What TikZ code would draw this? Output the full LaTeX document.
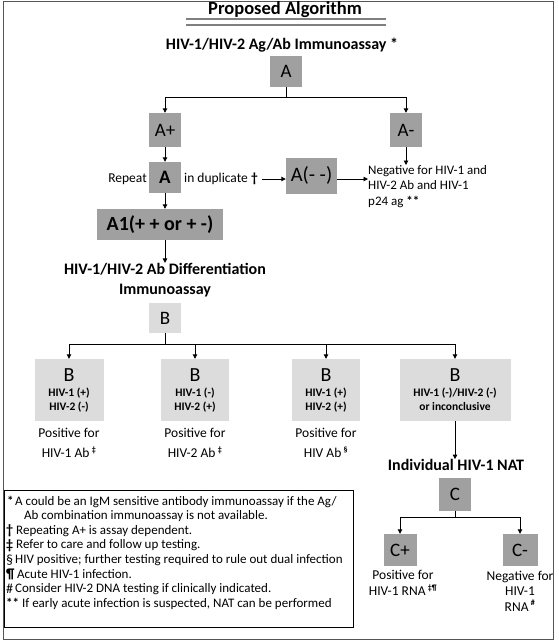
\documentclass[tikz,border=0pt]{standalone}
\usepackage{fontspec}
\setmainfont{Carlito}
\usetikzlibrary{arrows.meta}
\definecolor{boxdark}{HTML}{A0A0A0}
\definecolor{boxlight}{HTML}{DCDCDC}
\definecolor{framegray}{HTML}{555555}
\newcommand{\fs}[1]{\fontsize{#1}{#1}\selectfont}
\tikzset{
  dk/.style={fill=boxdark, inner sep=0pt, align=center},
  lt/.style={fill=boxlight, inner sep=0pt, align=center},
  lbl/.style={inner sep=0pt, align=center},
  conn/.style={line width=0.9pt, black},
  arr/.style={conn, -{Triangle[length=4.5pt,width=4.5pt]}},
}
\begin{document}
\begin{tikzpicture}[x=1pt,y=-1pt]
\useasboundingbox (0,0) rectangle (558,643);
\draw[framegray, line width=1pt] (3,1.5) rectangle (553,639);
% title
\node[lbl, font=\fs{18.5}\bfseries] (title) at (285,10) {Proposed Algorithm};
\draw[gray, line width=1.3pt] (186,19) coordinate (u1) -- (386,19) coordinate (u2);
\draw[gray, line width=1.3pt] (186,25) coordinate (u3) -- (386,25) coordinate (u4);
\node[lbl, font=\fs{16}\bfseries] (sub) at (282,45) {HIV-1/HIV-2 Ag/Ab Immunoassay *};
% A level
\node[dk, minimum width=32pt, minimum height=31pt, font=\fs{19}] (A) at (286,71.5) {A};
\node[dk, minimum width=32pt, minimum height=34pt, font=\fs{19}] (Ap) at (165,130) {A+};
\node[dk, minimum width=32pt, minimum height=34pt, font=\fs{19}] (Am) at (406,130) {A-};
\coordinate (busA) at (286,97);
\draw[conn] (A.south) -- (busA);
\draw[arr] (busA) -| (Ap.north);
\draw[arr] (busA) -| (Am.north);
% repeat row
\node[dk, minimum width=32pt, minimum height=31pt, font=\fs{19}\bfseries] (Ar) at (165,177.5) {A};
\node[lbl, font=\fs{13.5}, anchor=east] (rep) at (147,179) {Repeat};
\node[lbl, font=\fs{13.5}, anchor=west] (dup) at (184,179) {in duplicate \textbf{†}};
\node[dk, minimum width=51pt, minimum height=36pt, font=\fs{20.5}] (Amm) at (311.5,175.5) {A(- -)};
\node[lbl, font=\fs{13}, anchor=north west, align=left] (neg) at (368,165) {Negative for HIV-1 and\\[2.5pt]HIV-2 Ab and HIV-1\\[2.5pt]p24 ag \textbf{**}};
\draw[arr] (Ap.south) -- (Ar.north);
\draw[arr] (Am.south) -- (Am.south |- neg.north);
\draw[arr] (dup.east) ++(4,0) coordinate (d1) -- (d1 -| Amm.west);
\draw[arr] (Amm.east |- d1) -- (d1 -| neg.west);
% A1
\node[dk, minimum width=126pt, minimum height=31pt, font=\fs{20}\bfseries] (A1) at (160,224.5) {A1(+ + or + -)};
\draw[arr] (Ar.south) -- (Ar.south |- A1.north);
\node[lbl, font=\fs{16}\bfseries] (diff) at (165,280) {HIV-1/HIV-2 Ab Differentiation\\[4pt]Immunoassay};
\draw[arr] (A1.south -| Ar.south) -- (Ar.south |- diff.north);
% B level
\node[lt, minimum width=32pt, minimum height=30pt, font=\fs{19}] (B) at (165,318) {B};
\coordinate (busB) at (165,344);
\draw[conn] (B.south) -- (busB);
\node[lt, minimum width=69pt, minimum height=62pt] (B1) at (69,390) {{\fs{20}B}\\[3pt]{\fs{11.5}\bfseries HIV-1 (+)}\\[2pt]{\fs{11.5}\bfseries HIV-2 (-)}};
\node[lt, minimum width=68pt, minimum height=62pt] (B2) at (195,390) {{\fs{20}B}\\[3pt]{\fs{11.5}\bfseries HIV-1 (-)}\\[2pt]{\fs{11.5}\bfseries HIV-2 (+)}};
\node[lt, minimum width=68pt, minimum height=62pt] (B3) at (326,390) {{\fs{20}B}\\[3pt]{\fs{11.5}\bfseries HIV-1 (+)}\\[2pt]{\fs{11.5}\bfseries HIV-2 (+)}};
\node[lt, minimum width=111pt, minimum height=62pt] (B4) at (455,390) {{\fs{20}B}\\[3pt]{\fs{11.5}\bfseries HIV-1 (-)/HIV-2 (-)}\\[2pt]{\fs{11.5}\bfseries or inconclusive}};
\draw[conn] (busB -| B1.north) -- (busB -| B4.north);
\foreach \n in {B1,B2,B3,B4} \draw[arr] (busB -| \n.north) -- (\n.north);
\node[lbl, font=\fs{13.5}] (p1) at (69,443) {Positive for\\[6pt]HIV-1 Ab\,\textsuperscript{\fs{8}\bfseries ‡}};
\node[lbl, font=\fs{13.5}] (p2) at (195,443) {Positive for\\[6pt]HIV-2 Ab\,\textsuperscript{\fs{8}\bfseries ‡}};
\node[lbl, font=\fs{13.5}] (p3) at (326,443) {Positive for\\[6pt]HIV Ab\,\textsuperscript{\fs{8}\bfseries §}};
% NAT
\node[lbl, font=\fs{16}\bfseries] (nat) at (456,465) {Individual HIV-1 NAT};
\draw[arr] (B4.south) -- (B4.south |- nat.north);
\node[dk, minimum width=32pt, minimum height=33pt, font=\fs{19}] (C) at (455,494.5) {C};
\coordinate (busC) at (455,517);
\draw[conn] (C.south) -- (busC);
\node[dk, minimum width=33pt, minimum height=32pt, font=\fs{19}] (Cp) at (400,550) {C+};
\node[dk, minimum width=35pt, minimum height=32pt, font=\fs{19}] (Cm) at (520,550) {C-};
\draw[arr] (busC) -| (Cp.north);
\draw[arr] (busC) -| (Cm.north);
\node[lbl, font=\fs{13.5}] (cp) at (403,583) {Positive for\\[2pt]HIV-1 RNA\,\textsuperscript{\fs{8}\bfseries ‡¶}};
\node[lbl, font=\fs{13.5}] (cm) at (520,591) {Negative for\\[2pt]HIV-1\\[2pt]RNA\,\textsuperscript{\fs{8}\bfseries\#}};
% footnotes
\node[draw=black, line width=0.9pt, minimum width=349pt, minimum height=137pt, anchor=north west, inner sep=0pt] (fn) at (4,490) {};
\begin{scope}[every node/.style={lbl, anchor=west, font=\fs{13}}]
\node (f1s) at (7,501) {\textbf{*}};
\node (f1) at (15,502) {A could be an IgM sensitive antibody immunoassay if the Ag/};
\node (f1b) at (24,516.5) {Ab combination immunoassay is not available.};
\node (f2s) at (6,531) {\fs{14}\textbf{†}};
\node (f2) at (16,531) {Repeating A+ is assay dependent.};
\node (f3s) at (6,545.5) {\fs{14}\textbf{‡}};
\node (f3) at (16,545.5) {Refer to care and follow up testing.};
\node (f4s) at (6,560) {\fs{14}§};
\node (f4) at (15,560) {HIV positive; further testing required to rule out dual infection};
\node (f5s) at (6,574.5) {\fs{14}\textbf{¶}};
\node (f5) at (17,574.5) {Acute HIV-1 infection.};
\node (f6s) at (6,589) {\fs{14}\#};
\node (f6) at (15,589) {Consider HIV-2 DNA testing if clinically indicated.};
\node (f7) at (6,603.5) {\textbf{**} If early acute infection is suspected, NAT can be performed};
\end{scope}
\end{tikzpicture}
\end{document}
